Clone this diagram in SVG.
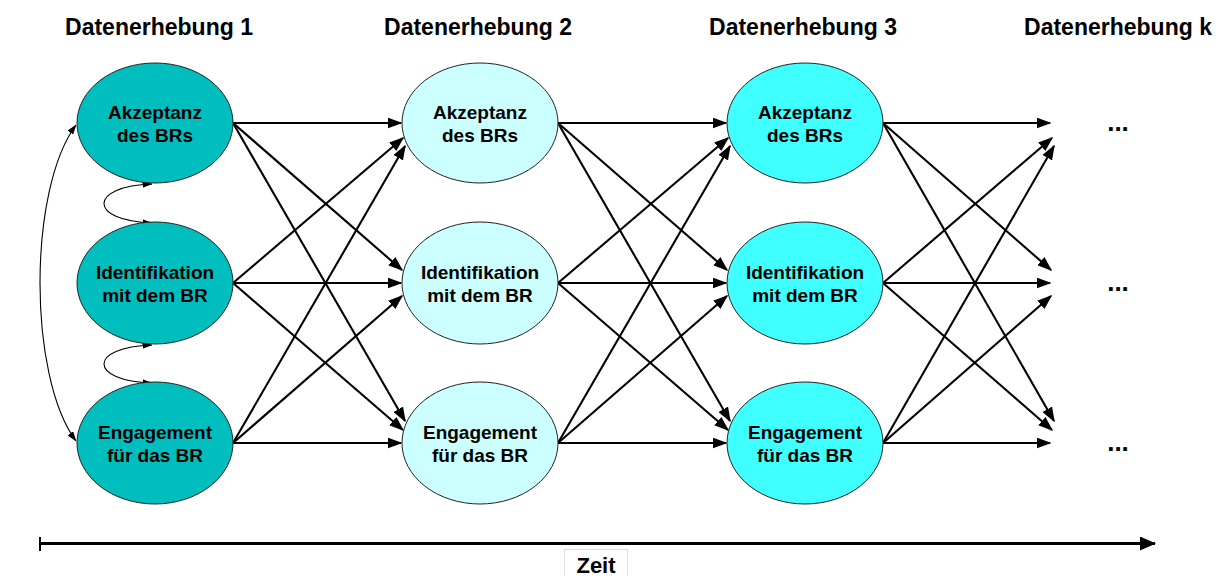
<svg xmlns="http://www.w3.org/2000/svg" width="1222" height="576" viewBox="0 0 1222 576">
  <defs>
    <style>
      .title { font-family: "Liberation Sans", Arial, sans-serif; font-size: 23px; font-weight: bold; text-anchor: middle; fill: #000; }
      .label { font-family: "Liberation Sans", Arial, sans-serif; font-size: 19px; font-weight: bold; text-anchor: middle; fill: #000; }
      .dots { font-family: "Liberation Sans", Arial, sans-serif; font-size: 26px; font-weight: bold; text-anchor: middle; fill: #000; }
      .zeit { font-family: "Liberation Sans", Arial, sans-serif; font-size: 22px; font-weight: bold; text-anchor: middle; fill: #000; }
      .node { stroke: #222; stroke-width: 1; }
      .w1 { fill: #00BEBE; }
      .w2 { fill: #CCFFFF; }
      .w3 { fill: #40FFFF; }
      .edge { fill: none; stroke: #000; stroke-width: 2.1; marker-end: url(#arrow); }
      .corr { fill: none; stroke: #000; stroke-width: 1.1; marker-start: url(#arrowSmall); marker-end: url(#arrowSmall); }
      .axis { fill: none; stroke: #000; stroke-width: 3; }
    </style>
    <marker id="arrow" viewBox="0 0 15 11" refX="13.5" refY="5.5" markerWidth="15" markerHeight="11" markerUnits="userSpaceOnUse" orient="auto">
      <path d="M0,0 L15,5.5 L0,11 z" fill="#000"/>
    </marker>
    <marker id="arrowSmall" viewBox="0 0 10 7" refX="9.5" refY="3.5" markerWidth="10" markerHeight="7" markerUnits="userSpaceOnUse" orient="auto-start-reverse">
      <path d="M0,0 L10,3.5 L0,7 z" fill="#000"/>
    </marker>
    <marker id="axisHead" viewBox="0 0 16 14" refX="15" refY="7" markerWidth="16" markerHeight="14" markerUnits="userSpaceOnUse" orient="auto">
      <path d="M0,0 L16,7 L0,14 z" fill="#000"/>
    </marker>
  </defs>

  <rect width="1222" height="576" fill="#fff"/>

  <!-- wave headings -->
  <g id="headings">
    <text class="title" x="159" y="35">Datenerhebung 1</text>
    <text class="title" x="478" y="35">Datenerhebung 2</text>
    <text class="title" x="803" y="35">Datenerhebung 3</text>
    <text class="title" x="1118" y="35">Datenerhebung k</text>
  </g>

  <!-- cross-lagged paths between waves -->
  <g id="connectors">
    <!-- wave 1 -> wave 2 -->
    <path class="edge" d="M233,123 L401,123"/>
    <path class="edge" d="M233,123 L402,270"/>
    <path class="edge" d="M233,123 L405,421"/>
    <path class="edge" d="M233,283 L403,138"/>
    <path class="edge" d="M233,283 L401,283"/>
    <path class="edge" d="M233,283 L403,430"/>
    <path class="edge" d="M233,443 L405,146"/>
    <path class="edge" d="M233,443 L402,296"/>
    <path class="edge" d="M233,443 L401,443"/>
    <!-- wave 2 -> wave 3 -->
    <path class="edge" d="M558,123 L726,123"/>
    <path class="edge" d="M558,123 L727,270"/>
    <path class="edge" d="M558,123 L730,421"/>
    <path class="edge" d="M558,283 L728,138"/>
    <path class="edge" d="M558,283 L726,283"/>
    <path class="edge" d="M558,283 L728,430"/>
    <path class="edge" d="M558,443 L730,146"/>
    <path class="edge" d="M558,443 L727,296"/>
    <path class="edge" d="M558,443 L726,443"/>
    <!-- wave 3 -> following waves -->
    <path class="edge" d="M883,123 L1050,123"/>
    <path class="edge" d="M883,123 L1051,270"/>
    <path class="edge" d="M883,123 L1054,421"/>
    <path class="edge" d="M883,283 L1052,138"/>
    <path class="edge" d="M883,283 L1050,283"/>
    <path class="edge" d="M883,283 L1052,430"/>
    <path class="edge" d="M883,443 L1054,146"/>
    <path class="edge" d="M883,443 L1051,296"/>
    <path class="edge" d="M883,443 L1050,443"/>
    <!-- correlations within wave 1 -->
    <path class="corr" d="M76,125 C28,190 28,376 76,441"/>
    <path class="corr" d="M152,184 C88,186 88,221 152,223"/>
    <path class="corr" d="M152,345 C88,347 88,381 152,383"/>
  </g>

  <!-- wave 1 -->
  <g id="w1-akzeptanz">
    <ellipse class="node w1" cx="155" cy="123" rx="78" ry="60"/>
    <text class="label" x="155" y="119">Akzeptanz</text>
    <text class="label" x="155" y="142">des BRs</text>
  </g>
  <g id="w1-identifikation">
    <ellipse class="node w1" cx="155" cy="283" rx="78" ry="61"/>
    <text class="label" x="155" y="279">Identifikation</text>
    <text class="label" x="155" y="302">mit dem BR</text>
  </g>
  <g id="w1-engagement">
    <ellipse class="node w1" cx="155" cy="443" rx="78" ry="61"/>
    <text class="label" x="155" y="439">Engagement</text>
    <text class="label" x="155" y="462">für das BR</text>
  </g>

  <!-- wave 2 -->
  <g id="w2-akzeptanz">
    <ellipse class="node w2" cx="480" cy="123" rx="78" ry="60"/>
    <text class="label" x="480" y="119">Akzeptanz</text>
    <text class="label" x="480" y="142">des BRs</text>
  </g>
  <g id="w2-identifikation">
    <ellipse class="node w2" cx="480" cy="283" rx="78" ry="61"/>
    <text class="label" x="480" y="279">Identifikation</text>
    <text class="label" x="480" y="302">mit dem BR</text>
  </g>
  <g id="w2-engagement">
    <ellipse class="node w2" cx="480" cy="443" rx="78" ry="61"/>
    <text class="label" x="480" y="439">Engagement</text>
    <text class="label" x="480" y="462">für das BR</text>
  </g>

  <!-- wave 3 -->
  <g id="w3-akzeptanz">
    <ellipse class="node w3" cx="805" cy="123" rx="78" ry="60"/>
    <text class="label" x="805" y="119">Akzeptanz</text>
    <text class="label" x="805" y="142">des BRs</text>
  </g>
  <g id="w3-identifikation">
    <ellipse class="node w3" cx="805" cy="283" rx="78" ry="61"/>
    <text class="label" x="805" y="279">Identifikation</text>
    <text class="label" x="805" y="302">mit dem BR</text>
  </g>
  <g id="w3-engagement">
    <ellipse class="node w3" cx="805" cy="443" rx="78" ry="61"/>
    <text class="label" x="805" y="439">Engagement</text>
    <text class="label" x="805" y="462">für das BR</text>
  </g>

  <!-- wave k placeholders -->
  <g id="wk-akzeptanz"><text class="dots" x="1118" y="131">...</text></g>
  <g id="wk-identifikation"><text class="dots" x="1118" y="291">...</text></g>
  <g id="wk-engagement"><text class="dots" x="1118" y="451">...</text></g>

  <!-- time axis -->
  <g id="time-axis">
    <line x1="40" y1="537" x2="40" y2="551" stroke="#000" stroke-width="2"/>
    <path class="axis" d="M40,543.5 L1155,543.5" marker-end="url(#axisHead)"/>
    <rect x="564.5" y="549.5" width="63" height="30" fill="#fff" stroke="#ddd" stroke-width="1"/>
    <text class="zeit" x="596" y="573">Zeit</text>
  </g>
</svg>
